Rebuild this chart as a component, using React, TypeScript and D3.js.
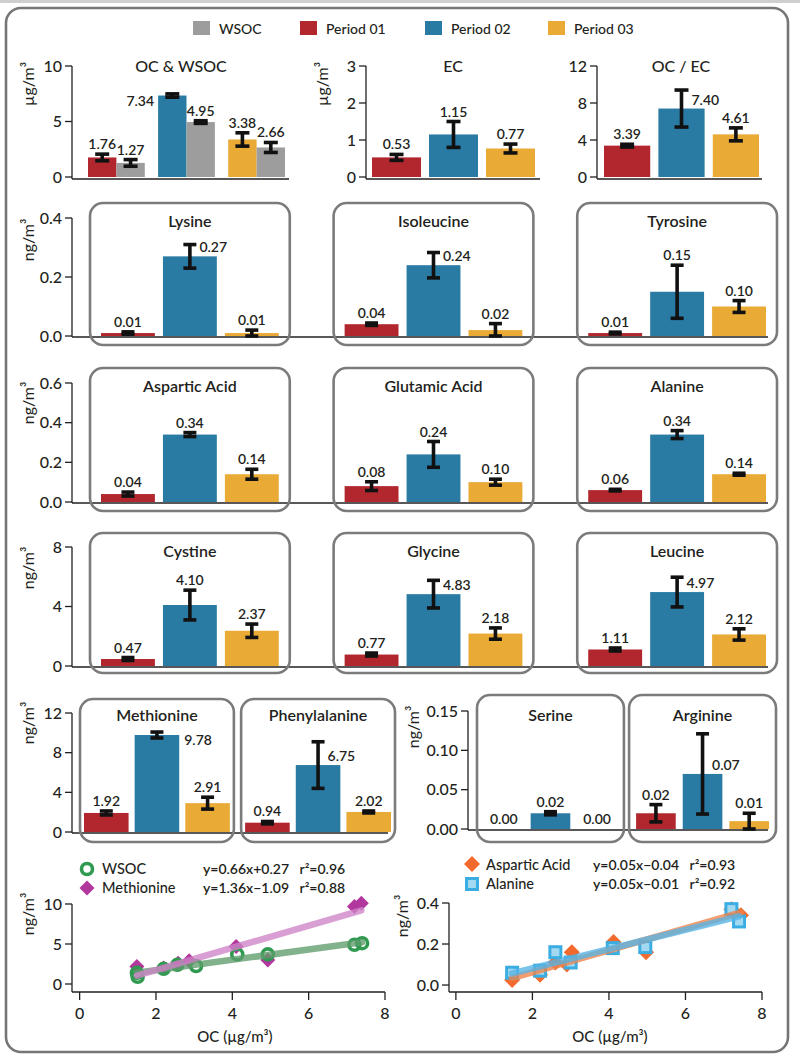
import React from 'react';
import * as d3 from 'd3';

const FONT = "Lato, 'Open Sans', 'DejaVu Sans', sans-serif";
const INK = '#231f20';

// ---------- data ----------
const periods = ['Period 01', 'Period 02', 'Period 03'];
const periodColors = ['#b1272d', '#2a7ba4', '#e9aa36'];
const wsocColor = '#9d9d9d';

const ocMean = [1.76, 7.34, 3.38];
const ocSd = [0.3, 0.15, 0.6];
const wsocMean = [1.27, 4.95, 2.66];
const wsocSd = [0.3, 0.12, 0.45];
const ecMean = [0.53, 1.15, 0.77];
const ecSd = [0.08, 0.35, 0.12];
const ocecMean = [3.39, 7.4, 4.61];
const ocecSd = [0.15, 2.0, 0.7];

const lysineMean = [0.01, 0.27, 0.01];
const lysineSd = [0.004, 0.04, 0.01];
const isoleucineMean = [0.04, 0.24, 0.02];
const isoleucineSd = [0.004, 0.043, 0.022];
const tyrosineMean = [0.01, 0.15, 0.1];
const tyrosineSd = [0.003, 0.09, 0.02];

const asparticMean = [0.04, 0.34, 0.14];
const asparticSd = [0.01, 0.01, 0.025];
const glutamicMean = [0.08, 0.24, 0.1];
const glutamicSd = [0.022, 0.065, 0.015];
const alanineMean = [0.06, 0.34, 0.14];
const alanineSd = [0.004, 0.02, 0.005];

const cystineMean = [0.47, 4.1, 2.37];
const cystineSd = [0.1, 1.0, 0.45];
const glycineMean = [0.77, 4.83, 2.18];
const glycineSd = [0.1, 0.93, 0.38];
const leucineMean = [1.11, 4.97, 2.12];
const leucineSd = [0.1, 1.0, 0.38];

const methionineMean = [1.92, 9.78, 2.91];
const methionineSd = [0.2, 0.3, 0.6];
const phenylalanineMean = [0.94, 6.75, 2.02];
const phenylalanineSd = [0.12, 2.35, 0.1];
const serineMean = [0.0, 0.02, 0.0];
const serineSd = [0, 0.002, 0];
const arginineMean = [0.02, 0.07, 0.01];
const arginineSd = [0.011, 0.051, 0.01];

const ticksOC = [0, 5, 10];
const ticksEC = [0, 1, 2, 3];
const ticksOCEC = [0, 4, 8, 12];
const ticksRow2 = [0, 0.2, 0.4];
const ticksRow3 = [0, 0.2, 0.4, 0.6];
const ticksRow4 = [0, 4, 8];
const ticksRow5L = [0, 4, 8, 12];
const ticksRow5R = [0, 0.05, 0.1, 0.15];
const ticksScatterL = [0, 5, 10];
const ticksScatterR = [0, 0.2, 0.4];
const ticksOCx = [0, 2, 4, 6, 8];

// scatter samples
const wsocOC = [1.5, 1.52, 2.2, 2.56, 3.05, 4.13, 4.93, 7.2, 7.4];
const wsocVal = [1.4, 0.9, 1.9, 2.4, 2.25, 3.7, 3.7, 4.9, 5.1];
const methOC = [1.5, 2.2, 2.58, 2.87, 4.1, 4.93, 7.2, 7.38];
const methVal = [2.2, 2.0, 2.6, 2.9, 4.7, 3.0, 9.7, 10.1];
const aspOC = [1.47, 2.2, 2.6, 2.9, 3.03, 4.12, 4.97, 7.2, 7.45];
const aspVal = [0.025, 0.05, 0.11, 0.1, 0.16, 0.21, 0.16, 0.37, 0.34];
const alaOC = [1.47, 2.2, 2.6, 3.0, 4.1, 4.95, 7.2, 7.4];
const alaVal = [0.06, 0.07, 0.16, 0.11, 0.18, 0.185, 0.37, 0.31];

const eqWsoc = 'y=0.66x+0.27   r\u00b2=0.96';
const eqMeth = 'y=1.36x\u22121.09   r\u00b2=0.88';
const eqAsp = 'y=0.05x\u22120.04   r\u00b2=0.93';
const eqAla = 'y=0.05x\u22120.01   r\u00b2=0.92';

// label placement (style, not data)
const labelPlace: Record<string, string> = {
  'OC-1': 'barLeft',
  'OC / EC-1': 'right',
  'Lysine-1': 'right',
  'Isoleucine-1': 'right',
  'Glycine-1': 'right',
  'Leucine-1': 'right',
  'Methionine-1': 'barRight',
  'Phenylalanine-1': 'right',
  'Arginine-1': 'right',
};

const fmt2 = d3.format('.2f');

function Bar({ x, w, v, sd, y, color, place = 'top', cap = 13 }: any) {
  const y0 = y(0);
  const yv = y(v);
  const yt = y(v + sd);
  const yb = y(Math.max(0, v - sd));
  const cx = x + w / 2;
  const t = fmt2(v);
  let lab;
  const common = { fontSize: 14, fontWeight: 600, fill: INK };
  if (place === 'right') lab = <text {...common} x={cx + cap / 2 + 3} y={yv - 4} textAnchor="start">{t}</text>;
  else if (place === 'barRight') lab = <text {...common} x={x + w + 5} y={yv + 10} textAnchor="start">{t}</text>;
  else if (place === 'barLeft') lab = <text {...common} x={x - 4} y={yv + 10} textAnchor="end">{t}</text>;
  else lab = <text {...common} x={cx} y={yt - 5} textAnchor="middle">{t}</text>;
  return (
    <g>
      {v > 0 && <rect x={x} y={yv} width={w} height={y0 - yv} fill={color} />}
      {sd > 0 && (
        <g stroke="#111" strokeWidth={3.6}>
          <line x1={cx} x2={cx} y1={yt} y2={yb} />
          <line x1={cx - cap / 2} x2={cx + cap / 2} y1={yt} y2={yt} />
          <line x1={cx - cap / 2} x2={cx + cap / 2} y1={yb} y2={yb} />
        </g>
      )}
      {lab}
    </g>
  );
}

function YAxis({ x, scale, ticks, fmt, bottom, size = 16 }: any) {
  const top = scale(d3.max(ticks as number[]));
  return (
    <g>
      <line x1={x} x2={x} y1={top} y2={bottom} stroke={INK} strokeWidth={1.3} />
      {ticks.map((t: number) => (
        <g key={t}>
          <line x1={x - 7} x2={x} y1={scale(t)} y2={scale(t)} stroke={INK} strokeWidth={1.3} />
          <text x={x - 10} y={scale(t)} dy="0.36em" textAnchor="end" fontSize={size} fontWeight={500} fill={INK}>{fmt(t)}</text>
        </g>
      ))}
    </g>
  );
}

function XAxis({ y, scale, ticks, x0, x1, size = 16 }: any) {
  return (
    <g>
      <line x1={x0} x2={x1} y1={y} y2={y} stroke={INK} strokeWidth={1.3} />
      {ticks.map((t: number) => (
        <g key={t}>
          <line x1={scale(t)} x2={scale(t)} y1={y} y2={y + 8} stroke={INK} strokeWidth={1.3} />
          <text x={scale(t)} y={y + 27} textAnchor="middle" fontSize={size} fontWeight={500} fill={INK}>{t}</text>
        </g>
      ))}
    </g>
  );
}

function YLabel({ x, y, text }: any) {
  return (
    <text transform={`translate(${x},${y}) rotate(-90)`} textAnchor="middle" dy="0.35em" fontSize={16} fill={INK}>
      {text}
    </text>
  );
}

function Baseline({ x0, x1, y }: any) {
  return <line x1={x0} x2={x1} y1={y} y2={y} stroke={INK} strokeWidth={1.3} />;
}

// A row of boxed amino-acid panels
function BoxRow({ names, means, sds, y, range, pad, boxTop, boxBottom, inset, barPad, titleDy, cap = 13 }: any) {
  const panel = d3.scaleBand<string>().domain(names).range(range).paddingInner(pad);
  return (
    <g>
      {names.map((n: string, i: number) => {
        const bx = panel(n)!;
        const bw = panel.bandwidth();
        const bars = d3.scaleBand<string>().domain(periods).range([bx + inset, bx + bw - inset]).paddingInner(barPad);
        return (
          <g key={n}>
            <rect x={bx} y={boxTop} width={bw} height={boxBottom - boxTop} rx={13} ry={13} fill="none" stroke="#7b7b7b" strokeWidth={2.6} />
            <text x={bx + bw / 2} y={boxTop + titleDy} textAnchor="middle" fontSize={16} fontWeight={600} fill={INK}>{n}</text>
            {periods.map((p, j) => (
              <Bar key={p} x={bars(p)} w={bars.bandwidth()} v={means[i][j]} sd={sds[i][j]} y={y} color={periodColors[j]} place={labelPlace[`${n}-${j}`]} cap={cap} />
            ))}
          </g>
        );
      })}
    </g>
  );
}

function fit(xs: number[], ys: number[]) {
  const mx = d3.mean(xs)!;
  const my = d3.mean(ys)!;
  let sxy = 0;
  let sxx = 0;
  xs.forEach((x, i) => {
    sxy += (x - mx) * (ys[i] - my);
    sxx += (x - mx) * (x - mx);
  });
  const b = sxy / sxx;
  return { a: my - b * mx, b };
}

function FitLine({ xs, ys, x, y, color }: any) {
  const f = fit(xs, ys);
  const lo = d3.min(xs as number[])!;
  const hi = d3.max(xs as number[])!;
  return (
    <line x1={x(lo)} y1={y(f.a + f.b * lo)} x2={x(hi)} y2={y(f.a + f.b * hi)} stroke={color} strokeWidth={6.5} strokeLinecap="round" opacity={0.78} />
  );
}

function Diamond({ cx, cy, r, fill }: any) {
  return <path d={`M${cx},${cy - r}L${cx + r},${cy}L${cx},${cy + r}L${cx - r},${cy}Z`} fill={fill} />;
}

function Ring({ cx, cy }: any) {
  return <circle cx={cx} cy={cy} r={5.5} fill="none" stroke="#2f9a50" strokeWidth={3.6} />;
}

function Sq({ cx, cy }: any) {
  return <rect x={cx - 5.5} y={cy - 5.5} width={11} height={11} fill="#a3d8f1" stroke="#3aaee2" strokeWidth={3} />;
}

export default function App() {
  // ---------- row 1 ----------
  const yOC = d3.scaleLinear().domain([0, 10]).range([177, 66]);
  const yEC = d3.scaleLinear().domain([0, 3]).range([177, 66]);
  const yOCEC = d3.scaleLinear().domain([0, 12]).range([177, 66]);
  const gOC = d3.scaleBand<string>().domain(periods).range([88, 285]).paddingInner(0.19);
  const gEC = d3.scaleBand<string>().domain(periods).range([372, 535]).paddingInner(0.14);
  const gOCEC = d3.scaleBand<string>().domain(periods).range([604, 759]).paddingInner(0.15);

  // ---------- rows 2-5 ----------
  const y2 = d3.scaleLinear().domain([0, 0.4]).range([336, 218]);
  const y3 = d3.scaleLinear().domain([0, 0.6]).range([502, 383]);
  const y4 = d3.scaleLinear().domain([0, 8]).range([666, 547]);
  const y5L = d3.scaleLinear().domain([0, 12]).range([832, 713]);
  const y5R = d3.scaleLinear().domain([0, 0.15]).range([829, 711]);

  // ---------- scatter ----------
  const sxL = d3.scaleLinear().domain([-0.2, 8]).range([72, 385]);
  const syL = d3.scaleLinear().domain([-1, 10]).range([992, 904]);
  const sxR = d3.scaleLinear().domain([-0.18, 8]).range([449, 762]);
  const syR = d3.scaleLinear().domain([-0.034, 0.4]).range([992, 903]);

  const f1 = d3.format('.1f');
  const f2 = d3.format('.2f');
  const f0 = d3.format('d');

  const legendX = [193, 300, 425, 548];
  const legendItems = [
    { label: 'WSOC', color: wsocColor },
    ...periods.map((p, i) => ({ label: p, color: periodColors[i] })),
  ];

  return (
    <svg width={800} height={1060} style={{ position: 'absolute', left: 0, top: 0, background: '#fff' }} fontFamily={FONT}>
      <rect x={0} y={0} width={800} height={1060} fill="#fff" />
      <line x1={0} x2={800} y1={1.5} y2={1.5} stroke="#cfcfcf" strokeWidth={3} />
      <rect x={6} y={8} width={782} height={1044} rx={15} ry={15} fill="none" stroke="#767676" strokeWidth={2.6} />

      {/* legend */}
      {legendItems.map((d, i) => (
        <g key={d.label}>
          <rect x={legendX[i]} y={21} width={17} height={14} fill={d.color} />
          <text x={legendX[i] + 26} y={33.5} fontSize={14} fontWeight={500} fill={INK}>{d.label}</text>
        </g>
      ))}

      {/* OC & WSOC */}
      <YLabel x={28} y={84} text={'\u00b5g/m\u00b3'} />
      <YAxis x={72} scale={yOC} ticks={ticksOC} fmt={f0} bottom={179} />
      <Baseline x0={72} x1={289} y={179} />
      <text x={181} y={72} textAnchor="middle" fontSize={16} fontWeight={500} fill={INK}>OC &amp; WSOC</text>
      {periods.map((p, j) => {
        const x = gOC(p)!;
        const w = gOC.bandwidth() / 2;
        return (
          <g key={p}>
            <Bar x={x} w={w} v={ocMean[j]} sd={ocSd[j]} y={yOC} color={periodColors[j]} place={labelPlace[`OC-${j}`]} cap={14} />
            <Bar x={x + w} w={w} v={wsocMean[j]} sd={wsocSd[j]} y={yOC} color={wsocColor} cap={14} />
          </g>
        );
      })}

      {/* EC */}
      <YLabel x={322} y={84} text={'\u00b5g/m\u00b3'} />
      <YAxis x={366} scale={yEC} ticks={ticksEC} fmt={f0} bottom={179} />
      <Baseline x0={366} x1={540} y={179} />
      <text x={453} y={72} textAnchor="middle" fontSize={16} fontWeight={500} fill={INK}>EC</text>
      {periods.map((p, j) => (
        <Bar key={p} x={gEC(p)} w={gEC.bandwidth()} v={ecMean[j]} sd={ecSd[j]} y={yEC} color={periodColors[j]} cap={14} />
      ))}

      {/* OC / EC */}
      <YAxis x={597} scale={yOCEC} ticks={ticksOCEC} fmt={f0} bottom={179} />
      <Baseline x0={597} x1={762} y={179} />
      <text x={681} y={72} textAnchor="middle" fontSize={16} fontWeight={500} fill={INK}>OC / EC</text>
      {periods.map((p, j) => (
        <Bar key={p} x={gOCEC(p)} w={gOCEC.bandwidth()} v={ocecMean[j]} sd={ocecSd[j]} y={yOCEC} color={periodColors[j]} place={labelPlace[`OC / EC-${j}`]} cap={14} />
      ))}

      {/* row 2 */}
      <YLabel x={28} y={240} text={'ng/m\u00b3'} />
      <YAxis x={72} scale={y2} ticks={ticksRow2} fmt={f1} bottom={337} />
      <Baseline x0={72} x1={768} y={337} />
      <BoxRow names={['Lysine', 'Isoleucine', 'Tyrosine']} means={[lysineMean, isoleucineMean, tyrosineMean]} sds={[lysineSd, isoleucineSd, tyrosineSd]}
        y={y2} range={[90, 777]} pad={0.18} boxTop={203} boxBottom={345} inset={11} barPad={0.13} titleDy={24} />

      {/* row 3 */}
      <YLabel x={28} y={403} text={'ng/m\u00b3'} />
      <YAxis x={72} scale={y3} ticks={ticksRow3} fmt={f1} bottom={503} />
      <Baseline x0={72} x1={768} y={503} />
      <BoxRow names={['Aspartic Acid', 'Glutamic Acid', 'Alanine']} means={[asparticMean, glutamicMean, alanineMean]} sds={[asparticSd, glutamicSd, alanineSd]}
        y={y3} range={[90, 777]} pad={0.18} boxTop={368} boxBottom={511} inset={11} barPad={0.13} titleDy={24} />

      {/* row 4 */}
      <YLabel x={28} y={568} text={'ng/m\u00b3'} />
      <YAxis x={72} scale={y4} ticks={ticksRow4} fmt={f0} bottom={667} />
      <Baseline x0={72} x1={768} y={667} />
      <BoxRow names={['Cystine', 'Glycine', 'Leucine']} means={[cystineMean, glycineMean, leucineMean]} sds={[cystineSd, glycineSd, leucineSd]}
        y={y4} range={[90, 777]} pad={0.18} boxTop={533} boxBottom={673} inset={11} barPad={0.13} titleDy={24} />

      {/* row 5 left */}
      <YLabel x={28} y={723} text={'ng/m\u00b3'} />
      <YAxis x={72} scale={y5L} ticks={ticksRow5L} fmt={f0} bottom={833} />
      <Baseline x0={72} x1={388} y={833} />
      <BoxRow names={['Methionine', 'Phenylalanine']} means={[methionineMean, phenylalanineMean]} sds={[methionineSd, phenylalanineSd]}
        y={y5L} range={[80, 395]} pad={0.045} boxTop={699} boxBottom={842} inset={4} barPad={0.12} titleDy={22} />

      {/* row 5 right */}
      <YLabel x={413} y={727} text={'ng/m\u00b3'} />
      <YAxis x={468} scale={y5R} ticks={ticksRow5R} fmt={f2} bottom={830} />
      <Baseline x0={468} x1={768} y={830} />
      <BoxRow names={['Serine', 'Arginine']} means={[serineMean, arginineMean]} sds={[serineSd, arginineSd]}
        y={y5R} range={[477, 776]} pad={0.034} boxTop={695} boxBottom={842} inset={7} barPad={0.15} titleDy={26} />

      {/* scatter left */}
      <Ring cx={87} cy={869} />
      <text x={102} y={874} fontSize={14.5} fontWeight={500} fill={INK}>WSOC</text>
      <Diamond cx={87} cy={888} r={7.5} fill="#b2379e" />
      <text x={102} y={893} fontSize={14.5} fontWeight={500} fill={INK}>Methionine</text>
      <text x={203} y={874} fontSize={14} fontWeight={600} fill={INK} style={{ whiteSpace: 'pre' }}>{eqWsoc}</text>
      <text x={203} y={893} fontSize={14} fontWeight={600} fill={INK} style={{ whiteSpace: 'pre' }}>{eqMeth}</text>
      <YLabel x={28} y={914} text={'ng/m\u00b3'} />
      <YAxis x={72} scale={syL} ticks={ticksScatterL} fmt={f0} bottom={992} />
      <XAxis y={992} scale={sxL} ticks={ticksOCx} x0={72} x1={385} />
      <text x={235} y={1042} textAnchor="middle" fontSize={15} fontWeight={500} fill={INK}>{'OC (\u00b5g/m\u00b3)'}</text>
      {methOC.map((x, i) => <Diamond key={'m' + i} cx={sxL(x)} cy={syL(methVal[i])} r={7.5} fill="#b2379e" />)}
      {wsocOC.map((x, i) => <Ring key={'w' + i} cx={sxL(x)} cy={syL(wsocVal[i])} />)}
      <FitLine xs={wsocOC} ys={wsocVal} x={sxL} y={syL} color="#5f9d6c" />
      <FitLine xs={methOC} ys={methVal} x={sxL} y={syL} color="#cf84c8" />

      {/* scatter right */}
      <Diamond cx={472} cy={864} r={8} fill="#f26a2d" />
      <text x={486} y={870} fontSize={14.5} fontWeight={500} fill={INK}>Aspartic Acid</text>
      <Sq cx={472} cy={884} />
      <text x={486} y={889} fontSize={14.5} fontWeight={500} fill={INK}>Alanine</text>
      <text x={593} y={870} fontSize={14} fontWeight={600} fill={INK} style={{ whiteSpace: 'pre' }}>{eqAsp}</text>
      <text x={593} y={889} fontSize={14} fontWeight={600} fill={INK} style={{ whiteSpace: 'pre' }}>{eqAla}</text>
      <YLabel x={402} y={916} text={'ng/m\u00b3'} />
      <YAxis x={449} scale={syR} ticks={ticksScatterR} fmt={f1} bottom={992} />
      <XAxis y={992} scale={sxR} ticks={ticksOCx} x0={449} x1={762} />
      <text x={610} y={1042} textAnchor="middle" fontSize={15} fontWeight={500} fill={INK}>{'OC (\u00b5g/m\u00b3)'}</text>
      {aspOC.map((x, i) => <Diamond key={'a' + i} cx={sxR(x)} cy={syR(aspVal[i])} r={8} fill="#f26a2d" />)}
      {alaOC.map((x, i) => <Sq key={'l' + i} cx={sxR(x)} cy={syR(alaVal[i])} />)}
      <FitLine xs={aspOC} ys={aspVal} x={sxR} y={syR} color="#f0834a" />
      <FitLine xs={alaOC} ys={alaVal} x={sxR} y={syR} color="#56b4e6" />
    </svg>
  );
}
